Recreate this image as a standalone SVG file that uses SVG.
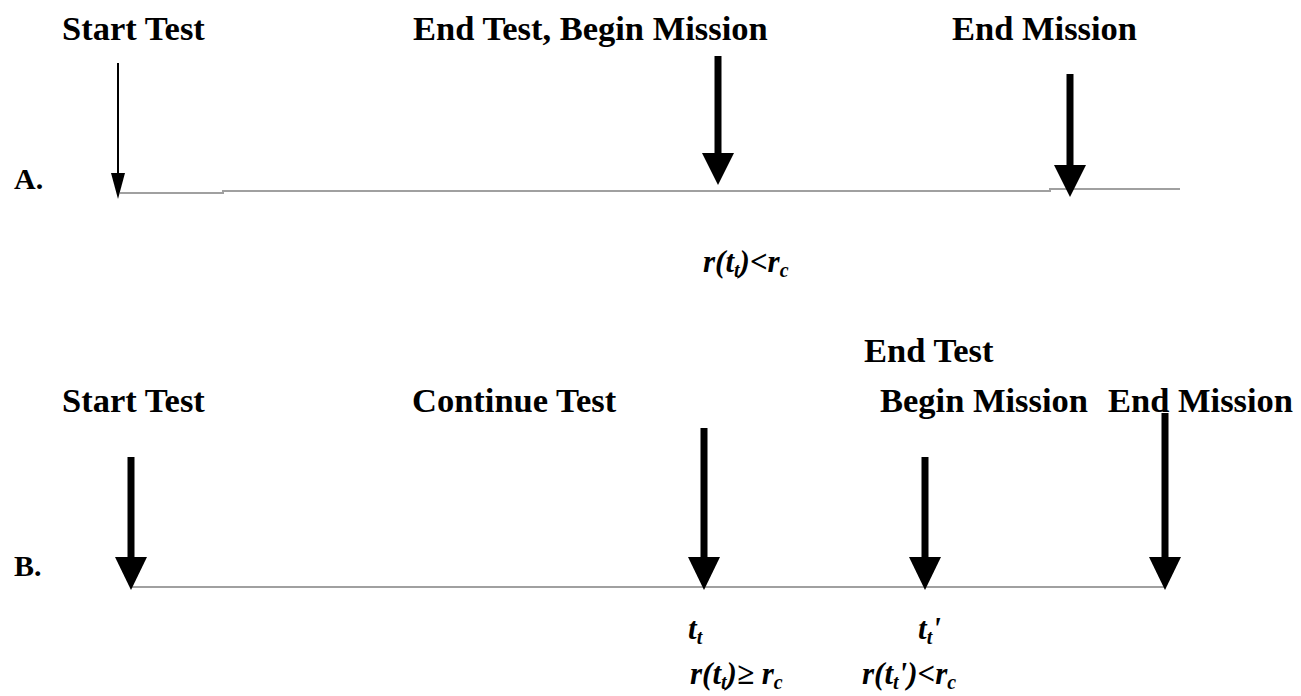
<svg xmlns="http://www.w3.org/2000/svg" width="1301" height="696" viewBox="0 0 1301 696">
<style>
.h{font-family:'Liberation Serif','DejaVu Serif',serif;font-weight:bold;font-size:34.5px;fill:#000}
.lbl{font-family:'Liberation Serif','DejaVu Serif',serif;font-weight:bold;font-size:30px;fill:#000}
.m{font-family:'Liberation Serif','DejaVu Serif',serif;font-weight:bold;font-style:italic;font-size:31px;fill:#000}
.sub{font-size:20px}
.axis{stroke:#a0a0a0;stroke-width:2;fill:none}
.thin{stroke:#000;stroke-width:2}
.thick{stroke:#000;stroke-width:7}
.head{fill:#000}
</style>
<rect width="1301" height="696" fill="#fff"/>
<g id="connectors">
<polyline class="axis" points="120,193 223,193 223,191 1050,191 1050,189 1180,189"/>
<line class="axis" x1="130" y1="587" x2="1165" y2="587"/>
</g>
<g id="rowA">
<g id="a-start"><text class="h" x="62" y="40">Start Test</text><line class="thin" x1="118" y1="63" x2="118" y2="180"/><polygon class="head" points="111,173 125,173 118,199"/></g>
<g id="a-endtest"><text class="h" x="413" y="40">End Test, Begin Mission</text><line class="thick" x1="718" y1="56" x2="718" y2="160"/><polygon class="head" points="702,153 734,153 718,185"/></g>
<g id="a-endmission"><text class="h" x="952" y="40">End Mission</text><line class="thick" x1="1070" y1="74" x2="1070" y2="170"/><polygon class="head" points="1054,165 1086,165 1070,197"/></g>
<text class="lbl" x="14" y="189">A.</text>
<text class="m" x="703" y="272">r(t<tspan class="sub" dy="5">t</tspan><tspan dy="-5">)&lt;r</tspan><tspan class="sub" dy="5">c</tspan></text>
</g>
<g id="rowB">
<g id="b-start"><text class="h" x="62" y="412">Start Test</text><line class="thick" x1="131" y1="457" x2="131" y2="562"/><polygon class="head" points="115,557 147,557 131,590"/></g>
<g id="b-continue"><text class="h" x="412" y="412">Continue Test</text><line class="thick" x1="704" y1="428" x2="704" y2="562"/><polygon class="head" points="688,557 720,557 704,590"/></g>
<g id="b-endtest"><text class="h" x="864" y="362">End Test</text><text class="h" x="880" y="412">Begin Mission</text><line class="thick" x1="925" y1="457" x2="925" y2="562"/><polygon class="head" points="909,557 941,557 925,590"/></g>
<g id="b-endmission"><text class="h" x="1108" y="412">End Mission</text><line class="thick" x1="1165" y1="413" x2="1165" y2="562"/><polygon class="head" points="1149,557 1181,557 1165,590"/></g>
<text class="lbl" x="14" y="576">B.</text>
<text class="m" x="688" y="639">t<tspan class="sub" dy="5">t</tspan></text>
<text class="m" x="690" y="684">r(t<tspan class="sub" dy="5">t</tspan><tspan dy="-5">)≥ r</tspan><tspan class="sub" dy="5">c</tspan></text>
<text class="m" x="918" y="639">t<tspan class="sub" dy="5">t</tspan><tspan dy="-5">'</tspan></text>
<text class="m" x="862" y="684">r(t<tspan class="sub" dy="5">t</tspan><tspan dy="-5">')&lt;r</tspan><tspan class="sub" dy="5">c</tspan></text>
</g>
</svg>
